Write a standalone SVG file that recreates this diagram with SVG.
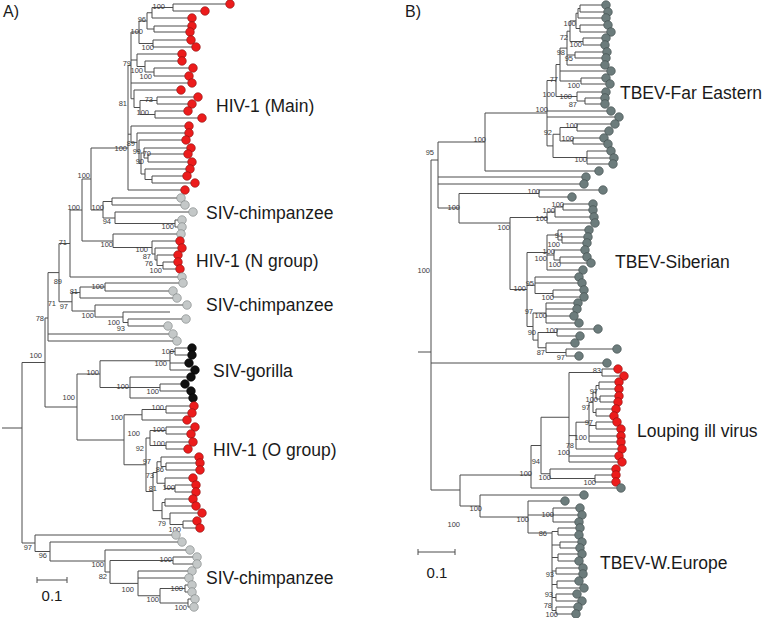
<svg xmlns="http://www.w3.org/2000/svg" width="763" height="618" viewBox="0 0 763 618">
<style>
.br{fill:none;stroke:#4d4d4d;stroke-width:1}
.bs{font-family:"Liberation Sans",Arial,sans-serif;font-size:7.5px;fill:#3a3a3a;text-anchor:end}
.cl{font-family:"Liberation Sans",Arial,sans-serif;font-size:17.5px;fill:#1a1a1a}
.pl{font-family:"Liberation Sans",Arial,sans-serif;font-size:16px;fill:#1a1a1a}
.sc{font-family:"Liberation Sans",Arial,sans-serif;font-size:15px;fill:#1a1a1a;text-anchor:middle}
.r{fill:#ec1c1c;stroke:#8a1010;stroke-width:0.6}
.g{fill:#c4c8c8;stroke:#7a7f7f;stroke-width:0.6}
.k{fill:#101010;stroke:#000;stroke-width:0.6}
.d{fill:#6c7c7c;stroke:#3e4a4a;stroke-width:0.6}
</style>
<rect width="763" height="618" fill="#fff"/>
<text class="pl" x="3" y="17">A)</text>
<text class="pl" x="405" y="17">B)</text>

<g id="connectors">
<path class="br" d="M173 4V11M173 4H226M173 11H201M152 7.5V18M152 7.5H173M152 18H188M154 26V32M154 26H188M154 32H186M147 12.75V29M147 12.75H152M147 29H154M153 40V47M153 40H187M153 47H192M139 21V43.5M139 21H147M139 43.5H153M154 68V76M154 68H189M154 76H185M145 61V72M145 61H178M145 72H154M137 54V66.5M137 54H178M137 66.5H145M157 97V104M157 97H194M157 104H188M155 111V118M155 111H184M155 118H198M140 100.5V114.5M140 100.5H157M140 114.5H155M134 90V107.5M134 90H177M134 107.5H140M131 32V98.75M131 32H139M131 60H137M131 83H188M131 98.75H134"/>
<path class="br" d="M148 154V162M148 154H184M148 162H188M144 148V158M144 148H187M144 158H148M152 176V183M152 176H183M152 183H191M145 169V179.5M145 169H186M145 179.5H152M141 153V174M141 153H144M141 174H145M139 140V163.5M139 140H182M139 163.5H141M137 133V151.75M137 133H185M137 151.75H139M131 126V142.4M131 126H185M131 142.4H137M128 65.4V190M128 65.4H131M128 134.2H131M128 190H181M91 148V210M91 148H128M91 210H103"/>
<path class="br" d="M112 198V205M112 198H177M112 205H181M175 220V227M175 220H178M175 227H178M115 212V223.5M115 212H189M115 223.5H175M103 201.5V218M103 201.5H112M103 218H115M163 262V269M163 262H174M163 269H176M157 255V265.5M157 255H174M157 265.5H163M155 248V260M155 248H178M155 260H157M152 241V254M152 241H176M152 254H155M113 234V247.5M113 234H177M113 247.5H152M82 179V241M82 179H91M82 241H113M70 210V277M70 210H82M70 277H178"/>
<path class="br" d="M105 283V291M105 283H179M105 291H169M80 287V298M80 287H105M80 298H173M128 319V326M128 319H182M128 326H164M123 312V322.5M123 312H170M123 322.5H128M95 305V317M95 305H183M95 317H123M72 292.5V311M72 292.5H80M72 311H95M59 243.5V301.75M59 243.5H70M59 301.75H72M48 272.6V341M48 272.6H59M48 334H169M48 341H173"/>
<path class="br" d="M175 348V355M175 348H188M175 355H188M170 351.5V370M170 351.5H175M170 363H185M170 370H191M160 384V391M160 384H181M160 391H187M130 377V398M130 377H187M130 387.5H160M130 398H189M100 360.75V387.5M100 360.75H170M100 387.5H130"/>
<path class="br" d="M166 406V413M166 406H190M166 413H188M142 409.5V420M142 409.5H166M142 420H183M166 427V434M166 427H191M166 434H187M166 442V449M166 442H189M166 449H184M150 430.5V445.5M150 430.5H166M150 445.5H166M166 463V470M166 463H196M166 470H196M161 457V466.5M161 457H195M161 466.5H166M175 485V492M175 485H192M175 492H192M165 478V488.5M165 478H189M165 488.5H175M157 461.75V483.25M157 461.75H161M157 483.25H165M165 499V506M165 499H189M165 506H192M183 521V528M183 521H193M183 528H196M170 513V524.5M170 513H198M170 524.5H183M162 502.5V518.75M162 502.5H165M162 518.75H170M153 472.5V510.6M153 472.5H157M153 510.6H162M146 438V491.5M146 438H150M146 491.5H153M124 414.75V464.75M124 414.75H142M124 464.75H146M77 374V440M77 374H100M77 440H124M45 318V407M45 318H48M45 407H77"/>
<path class="br" d="M173 557V564M173 557H193M173 564H193M185 585V592M185 585H188M185 592H188M188 599V607M188 599H191M188 607H190M160 588.5V603M160 588.5H185M160 603H188M138 571V595.75M138 571H188M138 578H185M138 595.75H160M110 560.5V583.4M110 560.5H173M110 583.4H138M105 550V572M105 550H186M105 572H110M50 542V561M50 542H178M50 561H105M35 535V551.5M35 535H172M35 551.5H50M22 362.5V543M22 362.5H45M22 543H35M2 428H22"/>
<path class="br" d="M37 580H67M37 577V583M67 577V583"/>

<path class="br" d="M580 5V12M580 5H603M580 12H605M578 8.5V18M578 8.5H580M578 18H603M580 25V32M580 25H605M580 32H608M576 13.25V28.5M576 13.25H578M576 28.5H580M583 38V45M583 38H603M583 45H602M570 20.9V41.5M570 20.9H576M570 41.5H583M575 52V58M575 52H604M575 58H603M567 31.2V65M567 31.2H570M567 55H575M567 65H602M581 78V84M581 78H603M581 84H607M585 98V104M585 98H602M585 104H602M577 92V101M577 92H603M577 101H585M560 48.1V81M560 48.1H567M560 71H608M560 81H581M556 64.5V96.5M556 64.5H560M556 96.5H577"/>
<path class="br" d="M577 124V131M577 124H612M577 131H606M573 138V144M573 138H601M573 144H605M587 151V164M587 151H608M587 158H611M587 164H610M560 127.5V141M560 127.5H577M560 141H573M553 134.25V157.5M553 134.25H560M553 157.5H587M547 80.5V145.9M547 80.5H556M547 111H608M547 117H616M547 145.9H553M485 113V171M485 113H547M485 171H596"/>
<path class="br" d="M539 190V197M539 190H600M539 197H569M563 204V210M563 204H590M563 210H590M555 207V217M555 207H563M555 217H591M547 212V223M547 212H555M547 223H592M562 237V243M562 237H585M562 243H584M558 230V240M558 230H586M558 240H562M560 257V263M560 257H584M560 263H588M554 250V260M554 250H582M554 260H560M547 235V270M547 235H558M547 255H554M547 270H580M553 290V297M553 290H581M553 297H581M535 277V293.5M535 277H576M535 283H579M535 293.5H553"/>
<path class="br" d="M546 303V323M546 303H575M546 309H574M546 316H571M546 323H576M557 329V336M557 329H595M557 336H577M566 349V356M566 349H614M566 356H576M546 343V352.5M546 343H572M546 352.5H566M538 332.5V347.75M538 332.5H557M538 347.75H546M533 313V340.1M533 313H546M533 340.1H538M527 252.5V326.5M527 252.5H547M527 285.25H535M527 326.5H533M510 217.5V289.5M510 217.5H547M510 289.5H527M459 193.5V223M459 193.5H539M459 223H510M438 142V208M438 142H485M438 177H583M438 184H581M438 208H459"/>
<path class="br" d="M602 369V376M602 369H615M602 376H621M599 382V389M599 382H616M599 389H616M600 396V402M600 396H616M600 402H615M596 385.5V399M596 385.5H599M596 399H600M596 409V416M596 409H613M596 416H611M593 392.25V412.5M593 392.25H596M593 412.5H596M596 422V429M596 422H614M596 429H618M589 402.4V442M589 402.4H593M589 425.5H596M589 436H618M589 442H618M576 422.2V449M576 422.2H589M576 449H619M569 372.5V462M569 372.5H602M569 435.6H576M569 456H616M569 462H619M595 475V482M595 475H613M595 482H613M550 469V478.5M550 469H613M550 478.5H595M541 417.25V473.75M541 417.25H569M541 473.75H550M531 445.5V488M531 445.5H541M531 488H618"/>
<path class="br" d="M553 508V522M553 508H577M553 515H579M553 522H576M558 528V535M558 528H577M558 535H576M560 542V548M560 542H579M560 548H577M558 554V561M558 554H579M558 561H576M556 568V574M556 568H580M556 574H580M557 581V588M557 581H576M557 588H581M556 594V601M556 594H574M556 601H579M556 607V614M556 607H575M556 614H573M552 531.5V610.5M552 531.5H558M552 545H560M552 557.5H558M552 571H556M552 584.5H557M552 597.5H556M552 610.5H556M528 501V533M528 501H562M528 515H553M528 533H552M480 495V517M480 495H581M480 517H528M460 475V506M460 475H531M460 506H480M431 160V490M431 160H438M431 363H604M431 490H460M418 352H431"/>
<path class="br" d="M418 552H455M418 549V555M455 549V555"/>
</g>

<g id="bootstrap-a">
<text class="bs" x="165" y="9">100</text><text class="bs" x="146" y="22">96</text><text class="bs" x="143" y="34">100</text><text class="bs" x="154" y="50">100</text><text class="bs" x="131" y="66">79</text><text class="bs" x="143" y="73">100</text><text class="bs" x="152" y="79">100</text><text class="bs" x="153" y="102">73</text><text class="bs" x="127" y="106">81</text><text class="bs" x="149" y="115">100</text><text class="bs" x="135" y="146">89</text><text class="bs" x="127" y="151">100</text><text class="bs" x="141" y="154">99</text><text class="bs" x="151" y="156">70</text><text class="bs" x="144" y="164">90</text>
<text class="bs" x="90" y="178">100</text><text class="bs" x="80" y="210">100</text><text class="bs" x="104" y="210">100</text><text class="bs" x="111" y="224">94</text><text class="bs" x="174" y="229">100</text><text class="bs" x="67" y="245">71</text><text class="bs" x="113" y="247">100</text><text class="bs" x="148" y="252">100</text><text class="bs" x="151" y="259">87</text><text class="bs" x="153" y="266">76</text><text class="bs" x="162" y="273">100</text><text class="bs" x="62" y="284">89</text><text class="bs" x="104" y="289">100</text><text class="bs" x="78" y="294">81</text><text class="bs" x="56" y="306">71</text><text class="bs" x="68" y="309">97</text><text class="bs" x="94" y="318">100</text><text class="bs" x="120" y="325">100</text><text class="bs" x="125" y="331">93</text><text class="bs" x="44" y="321">78</text>
<text class="bs" x="42" y="358">100</text><text class="bs" x="174" y="354">100</text><text class="bs" x="167" y="366">100</text><text class="bs" x="99" y="375">100</text><text class="bs" x="129" y="389">100</text><text class="bs" x="159" y="394">100</text><text class="bs" x="75" y="400">100</text><text class="bs" x="164" y="410">100</text><text class="bs" x="123" y="420">100</text><text class="bs" x="140" y="436">100</text><text class="bs" x="165" y="432">100</text><text class="bs" x="165" y="446">100</text><text class="bs" x="144" y="451">92</text><text class="bs" x="151" y="464">97</text><text class="bs" x="164" y="472">86</text><text class="bs" x="154" y="478">73</text><text class="bs" x="157" y="491">81</text><text class="bs" x="175" y="490">100</text><text class="bs" x="166" y="526">79</text><text class="bs" x="181" y="532">100</text>
<text class="bs" x="32" y="550">97</text><text class="bs" x="47" y="558">96</text><text class="bs" x="104" y="567">100</text><text class="bs" x="107" y="579">82</text><text class="bs" x="172" y="562">100</text><text class="bs" x="134" y="592">100</text><text class="bs" x="159" y="602">100</text><text class="bs" x="183" y="591">100</text><text class="bs" x="187" y="610">100</text>
</g>
<g id="bootstrap-b">
<text class="bs" x="576" y="26">100</text><text class="bs" x="568" y="40">72</text><text class="bs" x="582" y="47">100</text><text class="bs" x="565" y="55">98</text><text class="bs" x="573" y="61">95</text><text class="bs" x="558" y="82">77</text><text class="bs" x="580" y="88">100</text><text class="bs" x="555" y="97">100</text><text class="bs" x="572" y="99">100</text><text class="bs" x="577" y="107">87</text><text class="bs" x="548" y="112">100</text><text class="bs" x="552" y="135">92</text><text class="bs" x="578" y="128">100</text><text class="bs" x="574" y="141">100</text><text class="bs" x="587" y="162">100</text><text class="bs" x="486" y="142">100</text><text class="bs" x="434" y="155">95</text>
<text class="bs" x="460" y="210">100</text><text class="bs" x="540" y="194">100</text><text class="bs" x="564" y="207">100</text><text class="bs" x="555" y="213">100</text><text class="bs" x="548" y="221">100</text><text class="bs" x="510" y="230">100</text><text class="bs" x="563" y="238">94</text><text class="bs" x="560" y="247">100</text><text class="bs" x="555" y="254">100</text><text class="bs" x="547" y="261">100</text><text class="bs" x="561" y="267">100</text><text class="bs" x="430" y="273">100</text><text class="bs" x="534" y="286">95</text><text class="bs" x="526" y="291">100</text><text class="bs" x="554" y="300">100</text><text class="bs" x="533" y="314">97</text><text class="bs" x="547" y="318">100</text><text class="bs" x="536" y="335">90</text><text class="bs" x="558" y="333">100</text><text class="bs" x="545" y="355">87</text><text class="bs" x="565" y="360">97</text>
<text class="bs" x="601" y="373">83</text><text class="bs" x="598" y="394">97</text><text class="bs" x="598" y="402">100</text><text class="bs" x="590" y="410">97</text><text class="bs" x="593" y="425">97</text><text class="bs" x="587" y="440">100</text><text class="bs" x="574" y="448">78</text><text class="bs" x="570" y="455">100</text><text class="bs" x="540" y="464">94</text><text class="bs" x="532" y="476">100</text><text class="bs" x="551" y="480">100</text><text class="bs" x="596" y="485">100</text>
<text class="bs" x="482" y="511">100</text><text class="bs" x="460" y="527">100</text><text class="bs" x="529" y="522">100</text><text class="bs" x="554" y="517">100</text><text class="bs" x="547" y="536">86</text><text class="bs" x="554" y="577">93</text><text class="bs" x="553" y="597">93</text><text class="bs" x="552" y="608">78</text><text class="bs" x="558" y="617">100</text>
</g>

<text class="sc" x="52" y="601">0.1</text>
<text class="sc" x="437" y="578">0.1</text>

<g id="a-main">
<circle class="r" cx="230" cy="4" r="4.3"/><circle class="r" cx="205" cy="11" r="4.3"/><circle class="r" cx="192" cy="18" r="4.3"/><circle class="r" cx="192" cy="26" r="4.3"/><circle class="r" cx="190" cy="32" r="4.3"/><circle class="r" cx="191" cy="40" r="4.3"/><circle class="r" cx="196" cy="47" r="4.3"/><circle class="r" cx="182" cy="54" r="4.3"/><circle class="r" cx="182" cy="61" r="4.3"/><circle class="r" cx="193" cy="68" r="4.3"/><circle class="r" cx="189" cy="76" r="4.3"/><circle class="r" cx="192" cy="83" r="4.3"/><circle class="r" cx="181" cy="90" r="4.3"/><circle class="r" cx="198" cy="97" r="4.3"/><circle class="r" cx="192" cy="104" r="4.3"/><circle class="r" cx="188" cy="111" r="4.3"/><circle class="r" cx="202" cy="118" r="4.3"/><circle class="r" cx="189" cy="126" r="4.3"/><circle class="r" cx="189" cy="133" r="4.3"/><circle class="r" cx="186" cy="140" r="4.3"/><circle class="r" cx="191" cy="148" r="4.3"/><circle class="r" cx="188" cy="154" r="4.3"/><circle class="r" cx="192" cy="162" r="4.3"/><circle class="r" cx="190" cy="169" r="4.3"/><circle class="r" cx="187" cy="176" r="4.3"/><circle class="r" cx="195" cy="183" r="4.3"/><circle class="r" cx="185" cy="190" r="4.3"/>
<text class="cl" x="216" y="112">HIV-1 (Main)</text>
</g>
<g id="a-sivcpz1">
<circle class="g" cx="181" cy="198" r="4.3"/><circle class="g" cx="185" cy="205" r="4.3"/><circle class="g" cx="193" cy="212" r="4.3"/><circle class="g" cx="182" cy="220" r="4.3"/><circle class="g" cx="182" cy="227" r="4.3"/><circle class="g" cx="181" cy="234" r="4.3"/>
<text class="cl" x="206" y="219">SIV-chimpanzee</text>
</g>
<g id="a-hivn">
<circle class="r" cx="180" cy="241" r="4.3"/><circle class="r" cx="182" cy="248" r="4.3"/><circle class="r" cx="178" cy="255" r="4.3"/><circle class="r" cx="178" cy="262" r="4.3"/><circle class="r" cx="180" cy="269" r="4.3"/>
<text class="cl" x="196" y="267">HIV-1 (N group)</text>
</g>
<g id="a-sivcpz2">
<circle class="g" cx="182" cy="277" r="4.3"/><circle class="g" cx="183" cy="283" r="4.3"/><circle class="g" cx="173" cy="291" r="4.3"/><circle class="g" cx="177" cy="298" r="4.3"/><circle class="g" cx="187" cy="305" r="4.3"/><circle class="g" cx="186" cy="319" r="4.3"/><circle class="g" cx="168" cy="326" r="4.3"/><circle class="g" cx="173" cy="334" r="4.3"/><circle class="g" cx="177" cy="341" r="4.3"/>
<text class="cl" x="206" y="311">SIV-chimpanzee</text>
</g>
<g id="a-sivgor">
<circle class="k" cx="192" cy="348" r="4.3"/><circle class="k" cx="192" cy="355" r="4.3"/><circle class="k" cx="189" cy="363" r="4.3"/><circle class="k" cx="195" cy="370" r="4.3"/><circle class="k" cx="191" cy="377" r="4.3"/><circle class="k" cx="185" cy="384" r="4.3"/><circle class="k" cx="191" cy="391" r="4.3"/><circle class="k" cx="193" cy="398" r="4.3"/>
<text class="cl" x="213" y="377">SIV-gorilla</text>
</g>
<g id="a-hivo">
<circle class="r" cx="194" cy="406" r="4.3"/><circle class="r" cx="192" cy="413" r="4.3"/><circle class="r" cx="187" cy="420" r="4.3"/><circle class="r" cx="195" cy="427" r="4.3"/><circle class="r" cx="191" cy="434" r="4.3"/><circle class="r" cx="193" cy="442" r="4.3"/><circle class="r" cx="188" cy="449" r="4.3"/><circle class="r" cx="199" cy="457" r="4.3"/><circle class="r" cx="200" cy="463" r="4.3"/><circle class="r" cx="200" cy="470" r="4.3"/><circle class="r" cx="193" cy="478" r="4.3"/><circle class="r" cx="196" cy="485" r="4.3"/><circle class="r" cx="196" cy="492" r="4.3"/><circle class="r" cx="193" cy="499" r="4.3"/><circle class="r" cx="196" cy="506" r="4.3"/><circle class="r" cx="202" cy="513" r="4.3"/><circle class="r" cx="197" cy="521" r="4.3"/><circle class="r" cx="200" cy="528" r="4.3"/>
<text class="cl" x="213" y="456">HIV-1 (O group)</text>
</g>
<g id="a-sivcpz3">
<circle class="g" cx="176" cy="535" r="4.3"/><circle class="g" cx="182" cy="542" r="4.3"/><circle class="g" cx="190" cy="550" r="4.3"/><circle class="g" cx="197" cy="557" r="4.3"/><circle class="g" cx="197" cy="564" r="4.3"/><circle class="g" cx="192" cy="571" r="4.3"/><circle class="g" cx="189" cy="578" r="4.3"/><circle class="g" cx="192" cy="585" r="4.3"/><circle class="g" cx="192" cy="592" r="4.3"/><circle class="g" cx="195" cy="599" r="4.3"/><circle class="g" cx="194" cy="607" r="4.3"/>
<text class="cl" x="206" y="584">SIV-chimpanzee</text>
</g>

<g id="b-fe">
<circle class="d" cx="606" cy="5" r="4.3"/><circle class="d" cx="608" cy="12" r="4.3"/><circle class="d" cx="606" cy="18" r="4.3"/><circle class="d" cx="608" cy="25" r="4.3"/><circle class="d" cx="611" cy="32" r="4.3"/><circle class="d" cx="606" cy="38" r="4.3"/><circle class="d" cx="605" cy="45" r="4.3"/><circle class="d" cx="607" cy="52" r="4.3"/><circle class="d" cx="606" cy="58" r="4.3"/><circle class="d" cx="605" cy="65" r="4.3"/><circle class="d" cx="611" cy="71" r="4.3"/><circle class="d" cx="606" cy="78" r="4.3"/><circle class="d" cx="610" cy="84" r="4.3"/><circle class="d" cx="606" cy="92" r="4.3"/><circle class="d" cx="605" cy="98" r="4.3"/><circle class="d" cx="605" cy="104" r="4.3"/><circle class="d" cx="611" cy="111" r="4.3"/><circle class="d" cx="619" cy="117" r="4.3"/><circle class="d" cx="615" cy="124" r="4.3"/><circle class="d" cx="609" cy="131" r="4.3"/><circle class="d" cx="604" cy="138" r="4.3"/><circle class="d" cx="608" cy="144" r="4.3"/><circle class="d" cx="611" cy="151" r="4.3"/><circle class="d" cx="614" cy="158" r="4.3"/><circle class="d" cx="613" cy="164" r="4.3"/><circle class="d" cx="599" cy="171" r="4.3"/><circle class="d" cx="586" cy="177" r="4.3"/><circle class="d" cx="584" cy="184" r="4.3"/>
<text class="cl" x="620" y="99">TBEV-Far Eastern</text>
</g>
<g id="b-sib">
<circle class="d" cx="603" cy="190" r="4.3"/><circle class="d" cx="572" cy="197" r="4.3"/><circle class="d" cx="593" cy="204" r="4.3"/><circle class="d" cx="593" cy="210" r="4.3"/><circle class="d" cx="594" cy="217" r="4.3"/><circle class="d" cx="595" cy="223" r="4.3"/><circle class="d" cx="589" cy="230" r="4.3"/><circle class="d" cx="588" cy="237" r="4.3"/><circle class="d" cx="587" cy="243" r="4.3"/><circle class="d" cx="585" cy="250" r="4.3"/><circle class="d" cx="587" cy="257" r="4.3"/><circle class="d" cx="591" cy="263" r="4.3"/><circle class="d" cx="583" cy="270" r="4.3"/><circle class="d" cx="579" cy="277" r="4.3"/><circle class="d" cx="582" cy="283" r="4.3"/><circle class="d" cx="584" cy="290" r="4.3"/><circle class="d" cx="584" cy="297" r="4.3"/><circle class="d" cx="578" cy="303" r="4.3"/><circle class="d" cx="577" cy="309" r="4.3"/><circle class="d" cx="574" cy="316" r="4.3"/><circle class="d" cx="579" cy="323" r="4.3"/><circle class="d" cx="598" cy="329" r="4.3"/><circle class="d" cx="580" cy="336" r="4.3"/><circle class="d" cx="575" cy="343" r="4.3"/><circle class="d" cx="617" cy="349" r="4.3"/><circle class="d" cx="579" cy="356" r="4.3"/><circle class="d" cx="607" cy="363" r="4.3"/>
<text class="cl" x="615" y="268">TBEV-Siberian</text>
</g>
<g id="b-louping">
<circle class="r" cx="618" cy="369" r="4.3"/><circle class="r" cx="624" cy="376" r="4.3"/><circle class="r" cx="619" cy="382" r="4.3"/><circle class="r" cx="619" cy="389" r="4.3"/><circle class="r" cx="619" cy="396" r="4.3"/><circle class="r" cx="618" cy="402" r="4.3"/><circle class="r" cx="616" cy="409" r="4.3"/><circle class="r" cx="614" cy="416" r="4.3"/><circle class="r" cx="617" cy="422" r="4.3"/><circle class="r" cx="621" cy="429" r="4.3"/><circle class="r" cx="621" cy="436" r="4.3"/><circle class="r" cx="621" cy="442" r="4.3"/><circle class="r" cx="622" cy="449" r="4.3"/><circle class="r" cx="619" cy="456" r="4.3"/><circle class="r" cx="622" cy="462" r="4.3"/><circle class="r" cx="616" cy="469" r="4.3"/><circle class="r" cx="616" cy="475" r="4.3"/><circle class="r" cx="616" cy="482" r="4.3"/><circle class="d" cx="621" cy="488" r="4.3"/>
<text class="cl" x="637" y="437">Louping ill virus</text>
</g>
<g id="b-weu">
<circle class="d" cx="584" cy="495" r="4.3"/><circle class="d" cx="565" cy="501" r="4.3"/><circle class="d" cx="580" cy="508" r="4.3"/><circle class="d" cx="582" cy="515" r="4.3"/><circle class="d" cx="579" cy="522" r="4.3"/><circle class="d" cx="580" cy="528" r="4.3"/><circle class="d" cx="579" cy="535" r="4.3"/><circle class="d" cx="582" cy="542" r="4.3"/><circle class="d" cx="580" cy="548" r="4.3"/><circle class="d" cx="582" cy="554" r="4.3"/><circle class="d" cx="579" cy="561" r="4.3"/><circle class="d" cx="583" cy="568" r="4.3"/><circle class="d" cx="583" cy="574" r="4.3"/><circle class="d" cx="579" cy="581" r="4.3"/><circle class="d" cx="584" cy="588" r="4.3"/><circle class="d" cx="577" cy="594" r="4.3"/><circle class="d" cx="582" cy="601" r="4.3"/><circle class="d" cx="578" cy="607" r="4.3"/><circle class="d" cx="576" cy="614" r="4.3"/>
<text class="cl" x="600" y="569">TBEV-W.Europe</text>
</g>
</svg>
